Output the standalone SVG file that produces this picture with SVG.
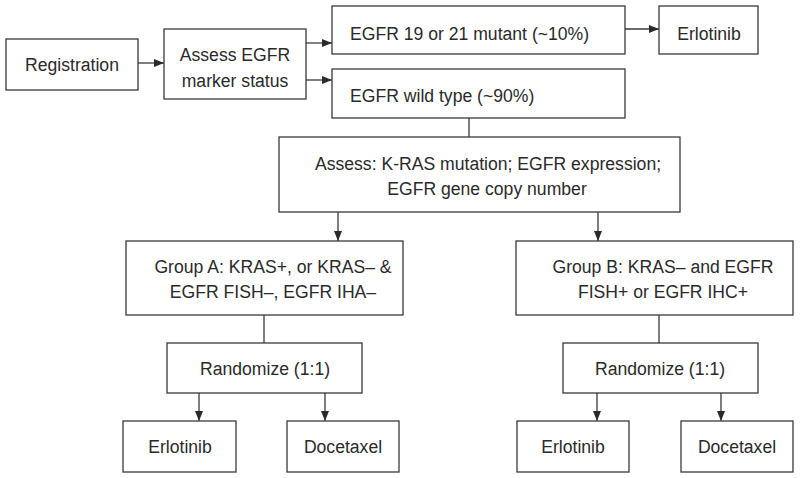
<svg xmlns="http://www.w3.org/2000/svg" width="800" height="478" viewBox="0 0 800 478">
<style>
rect{fill:#fff;stroke:#3a3a3a;stroke-width:1.3}
text{font-family:"Liberation Sans",Arial,sans-serif;font-size:17.6px;fill:#2a2a2a}
.c{text-anchor:middle}
.l{fill:none;stroke:#3a3a3a;stroke-width:1.3}
</style>
<defs>
<marker id="a" markerWidth="10" markerHeight="8" refX="10" refY="4" orient="auto" markerUnits="userSpaceOnUse">
<path d="M0,0 L10,4 L0,8 Z" fill="#2a2a2a"/>
</marker>
</defs>
<rect x="0" y="0" width="800" height="478" style="fill:#fff;stroke:none"/>
<g id="connectors">
<line class="l" x1="138" y1="63" x2="164" y2="63" marker-end="url(#a)"/>
<line class="l" x1="306" y1="43" x2="332" y2="43" marker-end="url(#a)"/>
<line class="l" x1="306" y1="80" x2="332" y2="80" marker-end="url(#a)"/>
<line class="l" x1="625" y1="29" x2="659" y2="29" marker-end="url(#a)"/>
<line class="l" x1="469" y1="118" x2="469" y2="137"/>
<line class="l" x1="338" y1="212" x2="338" y2="241" marker-end="url(#a)"/>
<line class="l" x1="598" y1="212" x2="598" y2="241" marker-end="url(#a)"/>
<line class="l" x1="264" y1="315" x2="264" y2="343"/>
<line class="l" x1="659" y1="315" x2="659" y2="343"/>
<line class="l" x1="199" y1="393" x2="199" y2="421" marker-end="url(#a)"/>
<line class="l" x1="325" y1="393" x2="325" y2="421" marker-end="url(#a)"/>
<line class="l" x1="597" y1="393" x2="597" y2="421" marker-end="url(#a)"/>
<line class="l" x1="721" y1="393" x2="721" y2="421" marker-end="url(#a)"/>
</g>
<g id="registration"><rect x="6" y="39" width="132" height="51"/><text class="c" x="72" y="71">Registration</text></g>
<g id="assess-egfr"><rect x="164" y="29" width="142" height="70"/><text class="c" x="235" y="61">Assess EGFR</text><text class="c" x="235" y="87">marker status</text></g>
<g id="egfr-mutant"><rect x="332" y="6" width="293" height="48"/><text x="350" y="40">EGFR 19 or 21 mutant (~10%)</text></g>
<g id="erlotinib-top"><rect x="659" y="6" width="99" height="48"/><text class="c" x="709" y="40">Erlotinib</text></g>
<g id="egfr-wild"><rect x="332" y="69" width="293" height="49"/><text x="350" y="102">EGFR wild type (~90%)</text></g>
<g id="assess-kras"><rect x="279" y="137" width="401" height="75"/><text class="c" x="488" y="170">Assess: K-RAS mutation; EGFR expression;</text><text class="c" x="487" y="195">EGFR gene copy number</text></g>
<g id="group-a"><rect x="126" y="241" width="277" height="74"/><text class="c" x="273" y="273">Group A: KRAS+, or KRAS– &amp;</text><text class="c" x="273" y="298">EGFR FISH–, EGFR IHA–</text></g>
<g id="group-b"><rect x="516" y="241" width="277" height="74"/><text class="c" x="663" y="273">Group B: KRAS– and EGFR</text><text class="c" x="663" y="298">FISH+ or EGFR IHC+</text></g>
<g id="randomize-a"><rect x="167" y="343" width="195" height="50"/><text class="c" x="265" y="375">Randomize (1:1)</text></g>
<g id="randomize-b"><rect x="563" y="343" width="195" height="50"/><text class="c" x="660" y="375">Randomize (1:1)</text></g>
<g id="erlotinib-a"><rect x="123" y="421" width="113" height="51"/><text class="c" x="180" y="453">Erlotinib</text></g>
<g id="docetaxel-a"><rect x="287" y="421" width="112" height="51"/><text class="c" x="343" y="453">Docetaxel</text></g>
<g id="erlotinib-b"><rect x="517" y="421" width="112" height="51"/><text class="c" x="573" y="453">Erlotinib</text></g>
<g id="docetaxel-b"><rect x="681" y="421" width="112" height="51"/><text class="c" x="737" y="453">Docetaxel</text></g>
</svg>
